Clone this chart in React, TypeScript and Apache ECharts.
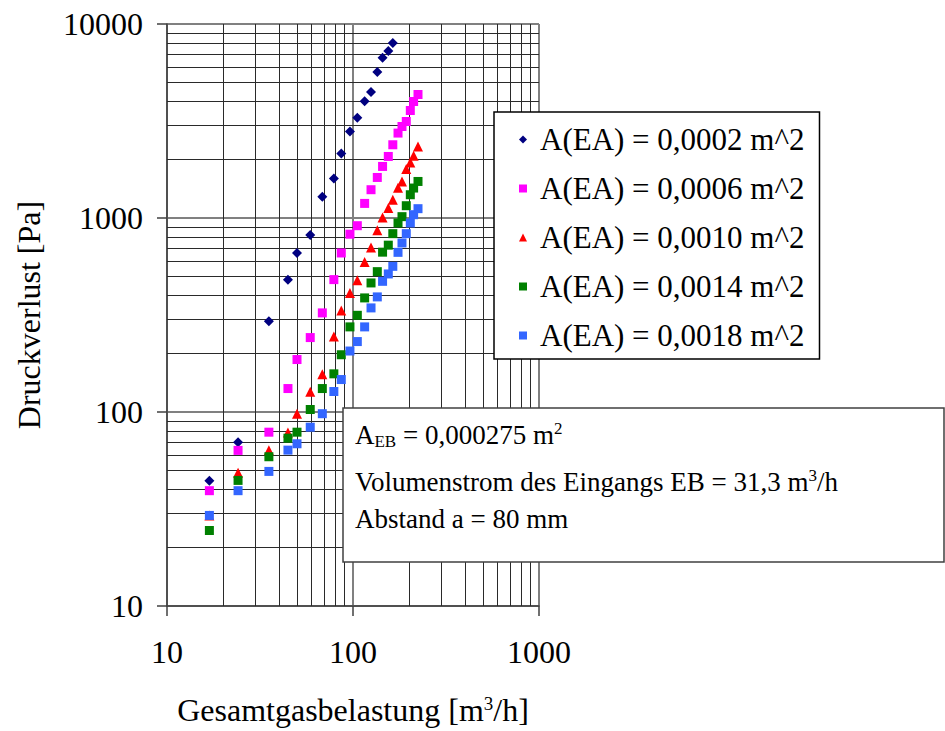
import React, { useEffect, useRef } from 'react';
import * as echarts from 'echarts';

const FONT = "'Liberation Serif', 'Times New Roman', serif";

// Gesamtgasbelastung [m3/h] (shared x values)
const xValues = [16.9, 24.1, 35.3, 44.7, 50.0, 58.9, 68.4, 78.9, 86.5, 96.3, 105.5, 115.5, 125.0, 135.1, 144.2, 154.8, 163.7, 174.6, 183.4, 193.4, 203.3, 211.8, 223.6];

const seriesNames = [
  'A(EA) = 0,0002 m^2',
  'A(EA) = 0,0006 m^2',
  'A(EA) = 0,0010 m^2',
  'A(EA) = 0,0014 m^2',
  'A(EA) = 0,0018 m^2',
];

// Druckverlust [Pa]
const pA0002 = [44.2, 69.9, 293.6, 481, 660, 817, 1287, 1599, 2150, 2792, 3285, 3995, 4455, 5653, 6690, 7268, 7992];
const pA0006 = [39.3, 63.4, 78.7, 132.1, 186.4, 241.9, 324.2, 481.3, 660.2, 825, 912.7, 1189, 1399, 1618, 1844, 2076, 2385, 2740, 2963, 3144, 3583, 3985, 4330];
const pA0010 = [29.3, 48.6, 63.6, 78.4, 97.9, 127.1, 156.5, 244.8, 333.2, 411.1, 478.3, 593.4, 704.8, 863.4, 1007, 1126, 1242, 1432, 1543, 1788, 1933, 2094, 2337];
const pA0014 = [24.5, 44.4, 58.8, 73.3, 78.7, 103.0, 132.1, 157.3, 197.3, 274.6, 315.1, 387.3, 462.7, 529.0, 666.7, 724.4, 830.4, 942.6, 1016, 1157, 1318, 1427, 1543];
const pA0018 = [29.3, 39.3, 49.4, 63.6, 68.6, 83.5, 98.0, 127.5, 147.0, 206.2, 230.7, 274.6, 344.0, 392.0, 471.6, 514.7, 563.4, 665.2, 743.5, 830.4, 942.6, 1040, 1117];

const seriesValues = [pA0002, pA0006, pA0010, pA0014, pA0018];
const seriesSymbols = ['diamond', 'rect', 'triangle', 'rect', 'rect'];
const seriesSizes = [10, 9, 10, 9, 9];
const seriesColors = ['#000080', '#FF00FF', '#FF0000', '#008000', '#3366FF'];

// axis ranges and minor grid lines
const xMin = 10;
const xMax = 1000;
const yMin = 10;
const yMax = 10000;
const xMinorGrid = [20, 30, 40, 50, 60, 70, 80, 90, 200, 300, 400, 500, 600, 700, 800, 900];
const yMinorGrid = [20, 30, 40, 50, 60, 70, 80, 90, 200, 300, 400, 500, 600, 700, 800, 900, 2000, 3000, 4000, 5000, 6000, 7000, 8000, 9000];

const annotationLines = [
  '{n|A}{s|EB}{n| = 0,000275 m}{p|2}',
  '{n|Volumenstrom des Eingangs EB = 31,3 m}{p|3}{n|/h}',
  '{n|Abstand a = 80 mm}',
];

export default function App() {
  const ref = useRef<HTMLDivElement>(null);

  useEffect(() => {
    if (!ref.current) return;
    const chart = echarts.init(ref.current, null, { renderer: 'svg' });

    const richAnno = {
      n: { fontSize: 27, fontFamily: FONT, fill: '#000', lineHeight: 30 },
      s: { fontSize: 17, fontFamily: FONT, fill: '#000', lineHeight: 17, verticalAlign: 'bottom' },
      p: { fontSize: 17, fontFamily: FONT, fill: '#000', lineHeight: 17, verticalAlign: 'top' },
    };

    const series: any[] = seriesValues.map((vals, si) => ({
      name: seriesNames[si],
      type: 'scatter',
      symbol: seriesSymbols[si],
      symbolSize: seriesSizes[si],
      itemStyle: { color: seriesColors[si], opacity: 1 },
      data: vals.map((v, i) => [xValues[i], v]),
      emphasis: { disabled: true },
      z: 3,
    }));

    series[0].markLine = {
      silent: true,
      symbol: ['none', 'none'],
      z: 1,
      label: { show: false },
      emphasis: { disabled: true },
      lineStyle: { color: '#2a2a2a', width: 1, type: 'solid' },
      data: [
        ...xMinorGrid.map((v) => ({ xAxis: v })),
        ...yMinorGrid.map((v) => ({ yAxis: v })),
      ],
    };

    const plainNum = (v: number) => String(Math.round(v));

    const option: any = {
      animation: false,
      backgroundColor: '#fff',
      grid: { left: 167, top: 24, width: 372, height: 583, containLabel: false },
      xAxis: {
        type: 'log',
        logBase: 10,
        min: xMin,
        max: xMax,
        name: 'Gesamtgasbelastung [m{sup|3}/h]',
        nameLocation: 'middle',
        nameGap: 88,
        nameTextStyle: {
          fontFamily: FONT,
          fontSize: 32,
          color: '#000',
          lineHeight: 32,
          rich: {
            sup: { fontFamily: FONT, fontSize: 19, color: '#000', lineHeight: 19, verticalAlign: 'top' },
          },
        },
        axisLine: { show: true, onZero: false, lineStyle: { color: '#404040', width: 1.5 } },
        axisTick: { show: true, inside: false, length: 10, lineStyle: { color: '#404040', width: 1.5 } },
        axisLabel: { fontFamily: FONT, fontSize: 32, color: '#000', margin: 30, formatter: plainNum },
        splitLine: { show: true, lineStyle: { color: '#808080', width: 2 } },
      },
      yAxis: {
        type: 'log',
        logBase: 10,
        min: yMin,
        max: yMax,
        name: 'Druckverlust [Pa]',
        nameLocation: 'middle',
        nameGap: 122,
        nameTextStyle: { fontFamily: FONT, fontSize: 32, color: '#000' },
        axisLine: { show: true, onZero: false, lineStyle: { color: '#404040', width: 1.5 } },
        axisTick: { show: true, inside: false, length: 10, lineStyle: { color: '#404040', width: 1.5 } },
        axisLabel: { fontFamily: FONT, fontSize: 32, color: '#000', margin: 24, formatter: plainNum },
        splitLine: { show: true, lineStyle: { color: '#808080', width: 2 } },
      },
      legend: {
        data: seriesNames,
        orient: 'vertical',
        left: 494,
        top: 112,
        padding: [12, 15, 8, 25],
        itemWidth: 8,
        itemHeight: 8,
        itemGap: 18,
        backgroundColor: '#fff',
        borderColor: '#000',
        borderWidth: 1.5,
        borderRadius: 0,
        selectedMode: false,
        textStyle: {
          fontFamily: FONT,
          fontSize: 31,
          color: '#000',
          lineHeight: 31,
          padding: [0, 0, 0, 8],
        },
        z: 50,
      },
      graphic: [
        {
          type: 'group',
          z: 100,
          children: [
            {
              type: 'rect',
              shape: { x: 343, y: 408, width: 601, height: 154 },
              style: { fill: '#fff', stroke: '#404040', lineWidth: 1.5 },
              z: 100,
            },
            ...annotationLines.map((t, i) => ({
              type: 'text',
              x: 355,
              y: [434.5, 481.5, 519][i],
              z: 101,
              style: {
                text: t,
                rich: richAnno,
                fontFamily: FONT,
                fontSize: 27,
                fill: '#000',
                align: 'left',
                verticalAlign: 'middle',
              },
            })),
          ],
        },
      ],
      series,
    };

    chart.setOption(option);
    return () => chart.dispose();
  }, []);

  return (
    <div
      ref={ref}
      style={{ position: 'absolute', left: 0, top: 0, width: 945, height: 731, background: '#fff' }}
    />
  );
}
